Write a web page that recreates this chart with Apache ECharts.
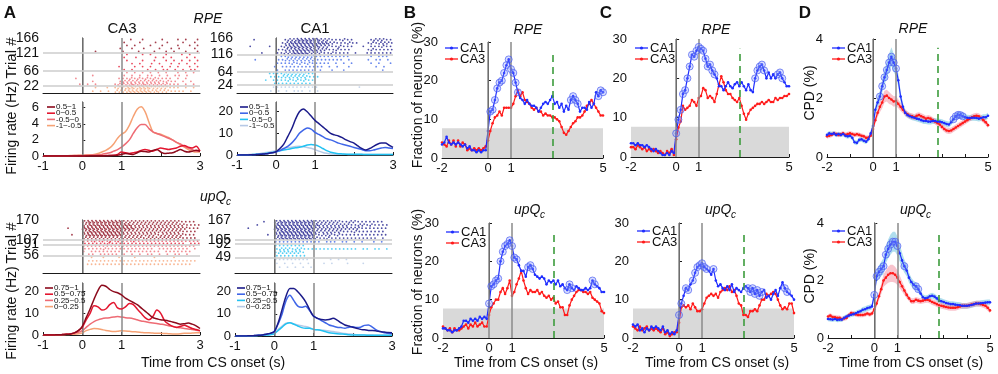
<!DOCTYPE html>
<html>
<head>
<meta charset="utf-8">
<script src="https://cdn.jsdelivr.net/npm/echarts@6/dist/echarts.min.js"></script>
<style>
html, body { margin: 0; padding: 0; background: #fff; }
#chart { width: 998px; height: 374px; }
</style>
</head>
<body>
<div id="chart"></div>
<script>
// ---------- data ----------
// panel A: firing rates, t = -1 .. 3 s, step 0.1
var ca3RpeLabels = ['0.5~1', '0~0.5', '-0.5~0', '-1~-0.5']
var ca3UpLabels = ['0.75~1', '0.5~0.75', '0.25~0.5', '0~0.25']

var ca3RpeHi = [0,0,0,0,0,0,0,0,0,0, 0,0,0.02,0.02,0.03,0.03,0.04,0.05,0.05,0.1, 0.2,0.3,0.25,0.2,0.4,0.6,0.55,0.5,0.7,0.8, 0.5,0.3,0.35,0.4,0.6,0.8,0.6,0.5,0.6,0.7,0.6]
var ca3RpeMidHi = [0,0,0,0,0,0,0,0,0,0, 0,0.02,0.02,0.03,0.03,0.04,0.05,0.06,0.08,0.2, 0.5,0.4,0.3,0.4,0.5,0.7,0.8,0.7,0.6,0.8, 1.0,0.9,0.8,0.9,1.0,1.2,1.3,1.1,1.0,1.2,0.6]
var ca3RpeMidLo = [0.02,0.02,0.02,0.02,0.03,0.03,0.03,0.04,0.05,0.05, 0.06,0.08,0.1,0.12,0.15,0.2,0.3,0.4,0.6,0.8, 1.1,1.5,2.0,2.8,3.5,3.9,3.9,3.4,3.0,2.8, 2.6,2.4,2.2,2.0,1.7,1.5,1.2,1.0,0.8,0.6,0.6]
var ca3RpeLo = [0.02,0.02,0.02,0.03,0.03,0.03,0.04,0.05,0.05,0.08, 0.1,0.12,0.15,0.2,0.3,0.5,0.7,1.0,1.5,2.2, 2.7,3.0,3.8,4.9,5.8,6.1,5.5,4.2,3.0,2.8, 2.7,2.5,2.3,2.0,1.7,1.4,1.1,0.8,0.6,0.5,0.5]

var ca1RpeHi = [0,0,0,0.05,0.1,0.2,0.3,0.5,0.7,1.0, 1.5,3.0,5.0,8.5,12.0,16.5,20.0,21.3,20.0,18.0, 16.0,14.5,13.0,11.5,10.0,9.3,8.8,8.0,7.0,6.2, 5.5,4.2,3.0,2.3,3.0,4.0,5.0,5.5,5.5,4.5,3.5]
var ca1RpeMidHi = [0,0,0,0.05,0.1,0.2,0.3,0.5,0.7,1.0, 1.5,2.0,3.0,4.0,5.5,7.5,10.0,11.5,12.5,12.0, 10.5,9.5,8.5,7.5,7.0,6.3,5.5,5.0,4.5,4.0, 3.5,3.0,2.5,2.0,2.0,2.3,2.8,3.2,3.5,3.2,3.0]
var ca1RpeMidLo = [0.05,0.05,0.1,0.1,0.2,0.3,0.4,0.6,0.9,1.2, 1.5,2.0,2.3,2.6,3.0,3.3,3.6,4.0,4.6,4.9, 4.6,4.0,3.0,2.0,1.3,0.9,0.6,0.5,0.4,0.35, 0.3,0.3,0.3,0.25,0.25,0.25,0.25,0.25,0.25,0.25,0.25]
var ca1RpeLo = [0.05,0.1,0.1,0.2,0.3,0.5,0.7,1.0,1.3,1.6, 2.0,2.5,3.0,3.3,3.6,3.9,4.0,3.8,3.5,3.1, 2.5,1.8,1.2,0.8,0.5,0.4,0.3,0.3,0.3,0.25, 0.25,0.25,0.25,0.2,0.2,0.2,0.2,0.2,0.2,0.2,0.2]

var ca3UpHi = [0,0,0,0.05,0.1,0.2,0.3,0.5,1.0,2.0, 4.0,8.0,12.0,16.5,20.5,23.0,22.5,21.0,20.0,19.5, 18.5,17.0,16.0,15.0,14.0,12.5,11.0,9.5,8.0,7.5, 7.0,6.8,6.5,6.0,5.5,5.0,5.2,5.5,5.0,4.2,3.0]
var ca3UpMidHi = [0,0,0,0.05,0.1,0.2,0.3,0.5,1.0,2.0, 3.5,7.0,10.0,13.5,13.0,11.5,12.0,14.0,15.0,12.5, 12.0,13.0,14.5,14.0,12.0,10.0,8.0,7.0,8.5,11.5, 10.0,6.5,5.0,4.0,3.5,4.0,4.5,3.8,3.0,2.5,2.0]
var ca3UpMidLo = [0,0,0,0.05,0.1,0.2,0.3,0.5,0.8,1.2, 2.0,3.5,5.0,6.2,7.0,7.5,7.8,8.0,8.3,8.5, 8.3,8.0,7.8,7.5,7.0,6.5,6.2,5.8,5.5,5.3, 5.0,4.7,4.3,4.0,3.6,3.3,3.0,2.8,2.5,2.2,2.0]
var ca3UpLo = [0,0,0,0.05,0.1,0.15,0.2,0.3,0.4,0.6, 1.0,2.0,2.6,3.0,2.9,2.5,2.1,1.8,1.6,1.7, 2.0,1.9,1.7,1.5,1.4,1.2,1.0,1.0,0.9,0.8, 0.8,0.7,0.6,0.5,0.5,0.6,0.8,0.8,0.9,1.0,1.0]

var ca1UpHi = [0,0,0,0.05,0.1,0.2,0.3,0.5,0.8,1.2, 2.0,6.0,12.0,18.0,21.5,21.5,20.0,18.0,15.5,12.0, 9.0,8.0,7.5,7.3,7.5,8.0,7.2,6.0,5.0,4.5, 4.0,3.5,3.0,2.8,2.5,2.5,2.3,2.0,1.8,1.6,1.5]
var ca1UpMidHi = [0,0,0,0.05,0.1,0.2,0.3,0.5,0.8,1.2, 2.0,5.5,10.0,16.0,18.5,16.0,13.5,13.0,13.5,11.5, 9.0,8.0,7.0,6.0,5.0,4.5,4.0,3.8,3.5,4.0, 4.2,3.8,4.0,4.8,5.0,4.0,2.8,2.0,1.5,1.2,1.0]
var ca1UpMidLo = [0,0,0,0.05,0.1,0.15,0.2,0.3,0.4,0.6, 1.0,2.5,4.0,5.5,6.0,5.3,4.5,3.8,3.5,3.5, 3.0,2.8,2.5,2.0,1.5,1.2,1.0,0.9,0.8,0.6, 0.5,0.5,0.4,0.4,0.3,0.3,0.3,0.3,0.3,0.3,0.3]
var ca1UpLo = [0,0,0,0.05,0.1,0.2,0.3,0.4,0.6,0.9, 1.5,3.0,4.5,5.8,6.0,5.5,5.0,4.6,4.3,3.8, 3.0,2.8,2.6,2.5,2.3,2.0,1.7,1.4,1.1,0.9, 0.8,0.6,0.5,0.5,0.4,0.4,0.3,0.3,0.3,0.3,0.3]

// panel A rasters: trial-group borders and spike density per 0.1 s bin (rows top to bottom, groups low to high)
var ca3RpeBounds = [0, 22, 66, 121, 166]
var ca3RpeTicks = [22, 66, 121, 166]
var ca3RpeRows = [
  ['0000000000000100101223323332222211101010',
   '0000000000001010102223333332322211110100'],
  ['0000000000000000000001010101010100101010',
   '0000000000001000000010101011010101101000',
   '0000000010000000000111212121211110101000',
   '0000000000001000000122222222221211010100',
   '0000000001010100001222322322222211101010'],
  ['0000000000000000000001000101000100010100',
   '0000000000000000000010010000101010001010',
   '0000000000000000000001000100100101010101',
   '0000000000000000000000101001010010101010',
   '0000000000000000000100010101001010100101',
   '0000000000000000000010100010101101010110'],
  ['0000000000000000000000100100001000101001',
   '0000000000000000000010001000100100010010',
   '0000000000000000000001010001001000100101',
   '0000000000000000000100100100010010100010',
   '0000000000000100000010001000100101001001']
]
var ca1RpeBounds = [0, 24, 64, 116, 166]
var ca1RpeTicks = [24, 64, 116, 166]
var ca1RpeRows = [
  ['0000000001111111111110000000000100000000',
   '0000000010101011101010000000000000000000'],
  ['0000000011112222221100000000000000000000',
   '0000000011122222221110000000000000000000',
   '0000000101111212121100000000000000000000',
   '0000000001111111111000000000000000000000'],
  ['0000000000011222222211111111100000101110',
   '0000100000112222222211111110100001011010',
   '0000000000111121212111110101010000101001',
   '0000000001011111111111010100100000010100',
   '0000000000101111111101001001000000000100'],
  ['0000100000001223333332221112110000122211',
   '0000000000012333333333322111211001212221',
   '0001000010012333333332221121110010111211',
   '0000000000112233333322211211100001211111',
   '0000001000112233332222112111101001111111']
]
var ca3UpBounds = [0, 56, 91, 107, 170]
var ca3UpTicks = [56, 91, 107, 170]
var ca3UpRows = [
  ['0000000000001001000100010000100001000000',
   '0000000000011111111111111111111111111110',
   '0000000000011111111111111111111111111100',
   '0000000000000000000000000000000000000000',
   '0000000000000000000000000000000000000000'],
  ['0000000000111111111111111111111111111110',
   '0000000000111112111111111111011111111010',
   '0000000000101111111101111111110111111100',
   '0000000000011011111010101011010101101000'],
  ['0000000000111212121211121111111111111111',
   '0000000000111111211111111111111111110111'],
  ['0000000000233333333322222222222222211110',
   '0000000000233333333333222222222222221111',
   '0000001000333333333333322222222222222111',
   '0000000000233333333322222222222222211110',
   '0000000100233333333322222222212222221110',
   '0000000000222222222222222122222222211110']
]
var ca1UpBounds = [0, 49, 92, 105, 167]
var ca1UpTicks = [49, 92, 105, 167]
var ca1UpRows = [
  ['0000000000111111111000001010100000000000',
   '0000000000101010101000101000100010000000',
   '0000000000010101010100000000000000000000',
   '0000000000000000000000000000000000000000'],
  ['0000000000111111110000000000000000000000',
   '0000000000122212211111111111111011011010',
   '0000000000122222210000000000000000000000',
   '0000000000111111110000000000000000000000'],
  ['0000000000111111111111011101101010010100'],
  ['0000000100233333333322222221122111111100',
   '0000010000333333333332222222211221211110',
   '0001000000333333333322222222222211111110',
   '0000000000233333333322222221112111111100',
   '0000000010233333333321222121111111111110',
   '0000000000233333333321121111111111110100']
]

// panels B-D: t = -2 .. 5 s, step 0.1
var bRpeCA1 = [3.5,4,5.5,4,3.5,4,3.5,4,3.5,3, 3.5,2.5,3,2,2,1.5,2,1.5,2,2, 7,12,12.5,15,18,19.5,20,22,24,25.5, 23,22,19.5,17,15.5,15,14,15,14,13.5, 13.5,13,12,13,14,14.5,14,15,16,14, 14.5,13,14,12,13.5,12.5,15,16,15,14, 12,13,13,12.5,14.5,13,14,17,16,17.5, 17]
var bRpeCA3 = [4,3.5,3,4.5,3.5,4.5,3,4.5,3,4, 3.5,2,2.5,2,2.5,2,2.5,2,2.5,3, 4.5,7,9,10.5,11,12,11,13,13,13, 13,14,16,17.5,16,17,15,14.5,14,13, 12.5,13,12,12,11,11.5,11,11,10.5,10.5, 10,9.5,8,6.5,6,7,8,9,9.5,10.5, 10.5,11,12,13.5,14,15,14,13,12,11, 11]
var bUpCA1 = [2.5,2.5,2,2,1.5,2,2,2.5,3,4.5, 4.5,4,5,4.5,5,4.5,5.5,5,5.5,5, 9,13.5,14,15,15.5,20,22.5,24,24.5,25.5, 24,21,20.5,19,17.5,17.5,16,18.5,19,18, 16.5,16,15.5,16,15.5,14,15,14.5,15,14, 15,13.5,14,13,12.5,14,13,12.5,13.5,13, 12.5,12.5,13,12.5,13,15,14,13.5,13,12, 12]
var bUpCA3 = [3,2.5,2,2.5,1.5,2.5,2,2,2.5,3, 3.5,2.5,3.5,3,4,3,3.5,4,3,3, 6,8,9,10,10,12,13,11.5,13,15, 11,12,14,15.5,17.5,15,13,11.5,12.5,12, 12,12.5,11.5,12,11,10.5,11,10,10.5,9, 9.5,8,8,6,6,8.5,10,11,12,12.5, 12.5,12,12,11.5,12,10.5,10,9.5,9,7, 6.5]
var cRpeCA1 = [3.5,3.5,3,3.5,3,3,2.5,3,2.5,2, 1.5,2,1.5,1,0.5,0.5,1,0.5,1.5,1, 6,9.5,12,16,17,20,23,26,25.5,27, 28,27.5,27,25,23,23.5,22,21,20,18, 18,17,18,19,18,17.5,18.5,19,18,19, 18,17,18.5,17,16.5,20,22,23,23.5,22, 20,21.5,20,21,20,21,21.5,20,19,18, 18]
var cRpeCA3 = [2.5,2.5,2,3,2.5,2,2.5,1.5,2,1.5, 2,1.5,1,1.5,1,0.5,1.5,1,2,0.5, 4.5,7.5,9,13,12,12.5,13,14.5,14,13, 15,15.5,17.5,17,15,15.5,15,14,16,18.5, 20.5,19,17,16,16,15,14.5,14,15,13, 11,9.5,11,12,12.5,13,13.5,13.5,14,13.5, 14,14.5,14,14,15,14.5,15,15,15.5,15.5, 16]
var cUpCA1 = [3.5,3,3.5,2,2.5,1.5,2.5,2,3,2.5, 3,2.5,2,3,1.5,2,1,1.5,1,2, 6,9,11,13,12.5,14,15,17,18.5,19, 19.5,18.5,18,17.5,16.5,18,15,13.5,14,13, 12.5,13.5,12.5,14,12,13,12.5,12,13,13.5, 13,12,13,11.5,12.5,11,12,12.5,10.5,11, 10,11.5,12.5,11,13,14.5,13,12,11.5,11, 10]
var cUpCA3 = [3,2.5,2,3,2,2.5,3,2,2.5,2, 2.5,2,1.5,2.5,1,1.5,0.5,1,1.5,1.5, 4,8,8.5,8,8.5,7.5,9,8,7,7, 7.5,9,10.5,11,11.5,11,11.5,10.5,12,12.5, 13,12.5,13.5,12,12.5,11,9,8.5,6,6, 5.5,7,7,7.5,7,8.5,10,10,11.5,11, 11.5,12,11.5,10,8.5,7.5,8,7.5,9,9, 6.5]
var dRpeCA1 = [0.75,0.8,0.78,0.8,0.75,0.78,0.75,0.78,0.72,0.7, 0.72,0.65,0.5,0.48,0.58,0.6,0.55,0.52,0.6,0.8, 1.05,1.6,1.85,2.05,2.4,2.7,2.95,3.2,3.4,3.2, 3.0,2.6,2.05,1.7,1.5,1.42,1.38,1.35,1.33,1.3, 1.28,1.25,1.22,1.22,1.2,1.2,1.22,1.22,1.2,1.2, 1.18,1.15,1.12,1.1,1.18,1.28,1.38,1.43,1.42,1.38, 1.35,1.33,1.32,1.33,1.33,1.32,1.3,1.32,1.35,1.35, 1.4]
var dRpeCA3 = [0.7,0.72,0.75,0.8,0.78,0.75,0.77,0.8,0.75,0.78, 0.8,0.78,0.75,0.77,0.75,0.72,0.7,0.65,0.66,0.72, 0.95,1.25,1.5,1.7,1.85,2.05,2.08,2.0,1.95,1.88, 1.9,1.8,1.7,1.6,1.5,1.45,1.4,1.38,1.35,1.4, 1.42,1.38,1.35,1.3,1.32,1.3,1.25,1.2,1.15,1.1, 1.02,0.95,0.9,0.88,0.9,0.95,1.0,1.05,1.1,1.15, 1.2,1.25,1.3,1.35,1.38,1.4,1.38,1.32,1.25,1.18, 1.08]
var dUpCA1 = [0.66,0.65,0.64,0.66,0.63,0.64,0.64,0.7,0.75,0.78, 0.81,0.83,0.86,0.9,0.93,0.98,1.0,1.04,1.06,1.1, 1.5,2.15,2.3,2.4,2.5,2.9,3.1,3.25,3.35,3.35, 3.2,2.95,2.7,2.5,2.35,2.1,1.95,1.85,1.8,1.7, 1.55,1.42,1.38,1.4,1.45,1.47,1.44,1.38,1.3,1.28, 1.25,1.22,1.2,1.18,1.18,1.16,1.15,1.14,1.12,1.12, 1.12,1.13,1.15,1.17,1.2,1.2,1.21,1.22,1.23,1.24, 1.24]
var dUpCA3 = [0.75,0.78,0.73,0.72,0.7,0.7,0.66,0.68,0.7,0.8, 0.87,0.85,0.82,0.8,0.8,0.8,0.82,0.85,0.82,0.85, 1.0,1.2,1.45,1.7,2.0,2.1,2.2,2.25,2.25,2.2, 2.1,1.95,1.8,1.65,1.5,1.38,1.28,1.28,1.33,1.3, 1.28,1.3,1.32,1.33,1.3,1.25,1.22,1.18,1.14,1.12, 1.1,1.08,1.06,1.05,1.05,1.05,1.07,1.1,1.12,1.12, 1.12,1.14,1.16,1.18,1.2,1.2,1.18,1.15,1.12,1.05, 0.96]
// s.e.m. for panel D
var dRpeCA1Sem = [0.08,0.08,0.08,0.08,0.08,0.08,0.08,0.08,0.08,0.08, 0.08,0.08,0.08,0.08,0.08,0.08,0.08,0.08,0.08,0.1, 0.12,0.15,0.18,0.2,0.22,0.25,0.28,0.3,0.32,0.3, 0.28,0.22,0.18,0.15,0.12,0.1,0.1,0.1,0.1,0.1, 0.1,0.1,0.1,0.1,0.1,0.1,0.1,0.1,0.1,0.1, 0.1,0.1,0.1,0.1,0.1,0.1,0.1,0.1,0.1,0.1, 0.1,0.1,0.1,0.1,0.1,0.1,0.1,0.1,0.1,0.1, 0.1]
var dRpeCA3Sem = [0.08,0.08,0.08,0.08,0.08,0.08,0.08,0.08,0.08,0.08, 0.08,0.08,0.08,0.08,0.08,0.08,0.08,0.08,0.08,0.08, 0.1,0.12,0.15,0.18,0.2,0.2,0.2,0.2,0.18,0.18, 0.17,0.15,0.14,0.12,0.1,0.1,0.1,0.1,0.1,0.1, 0.1,0.1,0.1,0.1,0.1,0.1,0.1,0.1,0.1,0.1, 0.1,0.1,0.1,0.1,0.1,0.1,0.1,0.1,0.1,0.1, 0.1,0.1,0.1,0.1,0.1,0.1,0.1,0.1,0.1,0.1, 0.1]
var dUpCA1Sem = [0.08,0.08,0.08,0.08,0.08,0.08,0.08,0.08,0.08,0.08, 0.08,0.08,0.08,0.08,0.08,0.1,0.1,0.1,0.1,0.1, 0.15,0.2,0.22,0.25,0.28,0.3,0.33,0.35,0.35,0.35, 0.33,0.3,0.27,0.23,0.2,0.18,0.15,0.14,0.13,0.12, 0.1,0.1,0.1,0.1,0.1,0.1,0.1,0.1,0.1,0.1, 0.1,0.1,0.1,0.1,0.1,0.1,0.1,0.1,0.1,0.1, 0.1,0.1,0.1,0.1,0.1,0.1,0.1,0.1,0.1,0.1, 0.1]
var dUpCA3Sem = [0.08,0.08,0.08,0.08,0.08,0.08,0.08,0.08,0.08,0.08, 0.08,0.08,0.08,0.08,0.08,0.08,0.08,0.08,0.08,0.08, 0.1,0.12,0.15,0.18,0.22,0.25,0.28,0.3,0.3,0.28, 0.26,0.22,0.18,0.15,0.12,0.1,0.1,0.1,0.1,0.1, 0.1,0.1,0.1,0.1,0.1,0.1,0.1,0.1,0.1,0.1, 0.1,0.1,0.1,0.1,0.1,0.1,0.1,0.1,0.1,0.1, 0.1,0.1,0.1,0.1,0.1,0.1,0.1,0.1,0.1,0.1, 0.1]
// time ranges where CA1 differs significantly (open circles)
var sigBRpe = [[0.1, 1.3], [3.6, 3.9], [4.8, 5.0]]
var sigBUp = [[0.0, 1.2], [1.7, 1.9], [3.4, 3.6], [4.5, 4.6]]
var sigCRpe = [[0.0, 1.7], [3.5, 3.9], [4.5, 4.7]]
var sigCUp = [[0.0, 0.1], [0.3, 0.4], [0.6, 1.2], [1.5, 1.5], [3.0, 3.6], [4.6, 4.7]]
var sigDRpe = [[0.3, 1.0], [3.5, 3.9]]
var sigDUp = [[0.0, 0.5], [0.6, 1.0], [1.3, 1.3], [1.8, 1.9]]
var chanceLevel = 7.7
var outcomeTime = 2.8
var bcdTicks = [-2, 0, 1, 5]
var aTicks = [-1, 0, 1, 3]

// ---------- helpers ----------
var FONT = 'Liberation Sans, Arial, Helvetica, sans-serif'
var ca3Colors = ['#f6a275', '#ee6b74', '#e3162f', '#8c0a1c']   // low -> high
var ca1Colors = ['#b6c9e6', '#22c2f2', '#3f66e8', '#1b1b8a']
var tA = [], tB = []
for (var i = -10; i <= 30; i++) tA.push(i / 10)
for (var j = -20; j <= 50; j++) tB.push(j / 10)
function pairs(t, v) { return t.map(function (x, k) { return [x, v[k]] }) }

var grids = [], xAxes = [], yAxes = [], extraY = [], series = [], graphics = []

function addGrid(l, t, w, h) {
	grids.push({ left: l, top: t, width: w, height: h })
	return grids.length - 1
}
function timeAxis(gi, min, max, labels, show) {
	xAxes.push({
		type: 'value', gridIndex: gi, min: min, max: max, interval: 1,
		axisLine: { show: true, onZero: false, lineStyle: { color: '#1a1a1a', width: 1 } },
		axisTick: { show: show, inside: true, length: 3, lineStyle: { color: '#1a1a1a' } },
		axisLabel: {
			show: show, margin: 4, fontSize: 13, fontFamily: FONT, color: '#111',
			formatter: function (v) { return labels.indexOf(v) >= 0 ? String(v) : '' }
		},
		splitLine: { show: false }
	})
}
function valueAxis(gi, min, max, interval, showMax, fs) {
	yAxes.push({
		type: 'value', gridIndex: gi, min: min, max: max, interval: interval,
		axisLine: { show: true, lineStyle: { color: '#1a1a1a', width: 1 } },
		axisTick: { show: true, inside: true, length: 3, lineStyle: { color: '#1a1a1a' } },
		axisLabel: { margin: 4, fontSize: fs || 13, fontFamily: FONT, color: '#111', showMaxLabel: showMax },
		splitLine: { show: false }
	})
}
// trial labels sit close together, so they are split over two overlaid axes
function trialAxis(gi, max, ticks) {
	function ax(vals, line) {
		return {
			type: 'value', gridIndex: gi, min: 0, max: max, position: 'left',
			axisLine: { show: line, lineStyle: { color: '#1a1a1a', width: 1 } },
			axisTick: { show: false },
			axisLabel: {
				customValues: vals, margin: 4, fontSize: 14, fontFamily: FONT, color: '#111',
				showMinLabel: true, showMaxLabel: true, hideOverlap: false
			},
			splitLine: { show: false }
		}
	}
	yAxes.push(ax([ticks[0], ticks[2]], true))
	extraY.push(ax([ticks[1], ticks[3]], false))
}

var SUB = [[[0, 0]], [[-0.024, -0.25], [0.022, 0.25]], [[-0.03, -0.3], [0.01, 0.3], [0.034, -0.08]]]
function rasterDots(rows, lo, hi) {
	var out = [], h = (hi - lo) / rows.length
	rows.forEach(function (s, k) {
		var yc = hi - (k + 0.5) * h
		var shift = (k % 2) ? 0.018 : -0.012
		for (var b = 0; b < s.length; b++) {
			var c = +s[b]
			if (!c) continue
			var xc = -1 + b * 0.1 + 0.05 + shift
			SUB[c - 1].forEach(function (o) { out.push([xc + o[0], yc + o[1] * h]) })
		}
	})
	return out
}
function vLines() {
	return [{ xAxis: 0 }, { xAxis: 1 }]
}
function rasterPanel(gi, rowsByGroup, bounds, colors) {
	rowsByGroup.forEach(function (rows, g) {
		var s = {
			type: 'scatter', xAxisIndex: gi, yAxisIndex: gi, silent: true,
			symbol: 'circle', symbolSize: 1.8, z: 3,
			itemStyle: { color: colors[g], opacity: 0.78 },
			data: rasterDots(rows, bounds[g], bounds[g + 1])
		}
		if (g === 0) {
			var lines = vLines().map(function (d) { return Object.assign(d, { lineStyle: { color: '#8a8a8a', width: 1.5, type: 'solid' } }) })
			bounds.slice(1, -1).forEach(function (b) {
				lines.push({ yAxis: b, lineStyle: { color: '#cdcdcd', width: 1.6, type: 'solid' } })
			})
			s.markLine = { silent: true, symbol: 'none', label: { show: false }, animation: false, data: lines }
		}
		series.push(s)
	})
}
function ratePanel(gi, arrs, colors) {
	// arrs ordered low -> high group
	arrs.forEach(function (a, k) {
		var s = {
			type: 'line', xAxisIndex: gi, yAxisIndex: gi, silent: true,
			data: pairs(tA, a), showSymbol: false, smooth: 0.3, z: 3 + k,
			lineStyle: { color: colors[k], width: 1.5 }, itemStyle: { color: colors[k] }
		}
		if (k === 0) {
			s.markLine = {
				silent: true, symbol: 'none', label: { show: false }, animation: false,
				lineStyle: { color: '#8a8a8a', width: 1.5, type: 'solid' }, data: vLines()
			}
		}
		series.push(s)
	})
}
function sigPoints(vals, ranges) {
	var out = []
	tB.forEach(function (t, k) {
		ranges.forEach(function (r) { if (t >= r[0] - 1e-6 && t <= r[1] + 1e-6) out.push([t, vals[k]]) })
	})
	return out
}
function tracePanel(gi, ca1, ca3, sig, top, greenTop, chance) {
	if (chance) {
		series.push({
			type: 'line', xAxisIndex: gi, yAxisIndex: gi, silent: true, z: 1,
			data: [[-2, chance], [5, chance]], showSymbol: false,
			lineStyle: { width: 0, opacity: 0 }, areaStyle: { color: '#d9d9d9', opacity: 1 }
		})
	}
	series.push({
		type: 'line', xAxisIndex: gi, yAxisIndex: gi, silent: true, z: 3,
		data: pairs(tB, ca3), symbol: 'circle', symbolSize: 2.6, showSymbol: true,
		lineStyle: { color: '#ff1a1a', width: 1.2 }, itemStyle: { color: '#ff1a1a' },
		markLine: {
			silent: true, symbol: 'none', label: { show: false }, animation: false,
			data: [
				{ xAxis: 0, lineStyle: { color: '#8a8a8a', width: 1.5, type: 'solid' } },
				{ xAxis: 1, lineStyle: { color: '#8a8a8a', width: 1.5, type: 'solid' } },
				[{ coord: [outcomeTime, 0], lineStyle: { color: '#3c9c3c', width: 1.6, type: [7, 5] } }, { coord: [outcomeTime, greenTop] }]
			]
		}
	})
	series.push({
		type: 'line', xAxisIndex: gi, yAxisIndex: gi, silent: true, z: 4,
		data: pairs(tB, ca1), symbol: 'circle', symbolSize: 2.6, showSymbol: true,
		lineStyle: { color: '#1f2dff', width: 1.2 }, itemStyle: { color: '#1f2dff' }
	})
	series.push({
		type: 'scatter', xAxisIndex: gi, yAxisIndex: gi, silent: true, z: 5,
		data: sigPoints(ca1, sig), symbol: 'circle', symbolSize: 7,
		itemStyle: { color: 'rgba(120,140,255,0.35)', borderColor: 'rgba(70,90,240,0.85)', borderWidth: 1 }
	})
}
function bandSeries(gi, mean, sem, color) {
	var pts = tB.map(function (t, k) { return [t, mean[k] - sem[k], mean[k] + sem[k]] })
	series.push({
		type: 'custom', xAxisIndex: gi, yAxisIndex: gi, silent: true, z: 1,
		data: pts, encode: { x: 0, y: [1, 2] },
		renderItem: function (params, api) {
			if (params.dataIndex !== 0) return
			var up = pts.map(function (d) { return api.coord([d[0], d[2]]) })
			var lo = pts.map(function (d) { return api.coord([d[0], d[1]]) }).reverse()
			return { type: 'polygon', shape: { points: up.concat(lo) }, style: { fill: color } }
		}
	})
}

// ---------- text helpers ----------
function txt(x, y, s, o) {
	o = o || {}
	graphics.push({
		type: 'text', x: x, y: y, rotation: o.rot || 0, silent: true, z: 50,
		style: {
			text: s, fill: '#111', fontFamily: FONT, fontSize: o.fs || 14,
			fontWeight: o.fw || 'normal', fontStyle: o.it ? 'italic' : 'normal',
			align: o.align || 'center', verticalAlign: 'middle',
			textAlign: o.align || 'center', textVerticalAlign: 'middle'
		}
	})
}
function upQc(x, y) {
	txt(x, y, 'upQ', { it: true, align: 'left', fs: 14 })
	txt(x + 26, y + 5, 'c', { it: true, align: 'left', fs: 10 })
}
function legendA(x, y, labels, colors) {
	// labels high -> low
	labels.forEach(function (lab, k) {
		var c = colors[colors.length - 1 - k], yy = y + k * 6.2
		graphics.push({ type: 'line', silent: true, z: 50, shape: { x1: x, y1: yy, x2: x + 8, y2: yy }, style: { stroke: c, lineWidth: 1.6 } })
		txt(x + 9, yy, lab, { fs: 8, align: 'left' })
	})
}
function legendBCD(x, y) {
	[['CA1', '#1f2dff'], ['CA3', '#ff1a1a']].forEach(function (it, k) {
		var yy = y + k * 11
		graphics.push({ type: 'line', silent: true, z: 50, shape: { x1: x, y1: yy, x2: x + 13, y2: yy }, style: { stroke: it[1], lineWidth: 1.3 } })
		graphics.push({ type: 'circle', silent: true, z: 50, shape: { cx: x + 6.5, cy: yy, r: 1.6 }, style: { fill: it[1] } })
		txt(x + 15, yy, it[0], { fs: 13, align: 'left' })
	})
}

// ---------- panel A ----------
var g
g = addGrid(43, 38, 157, 55); timeAxis(g, -1, 3, aTicks, false); trialAxis(g, 166, ca3RpeTicks)
rasterPanel(g, ca3RpeRows, ca3RpeBounds, ca3Colors)
g = addGrid(43, 102, 157, 54); timeAxis(g, -1, 3, aTicks, true); valueAxis(g, 0, 6.7, 2, false)
ratePanel(g, [ca3RpeLo, ca3RpeMidLo, ca3RpeMidHi, ca3RpeHi], ca3Colors)
g = addGrid(237, 38, 156, 55); timeAxis(g, -1, 3, aTicks, false); trialAxis(g, 166, ca1RpeTicks)
rasterPanel(g, ca1RpeRows, ca1RpeBounds, ca1Colors)
g = addGrid(237, 102, 156, 53); timeAxis(g, -1, 3, aTicks, true); valueAxis(g, 0, 24.5, 10, false)
ratePanel(g, [ca1RpeLo, ca1RpeMidLo, ca1RpeMidHi, ca1RpeHi], ca1Colors)
g = addGrid(43, 220, 157, 53); timeAxis(g, -1, 3, aTicks, false); trialAxis(g, 170, ca3UpTicks)
rasterPanel(g, ca3UpRows, ca3UpBounds, ca3Colors)
g = addGrid(43, 283, 157, 52); timeAxis(g, -1, 3, aTicks, true); valueAxis(g, 0, 24, 10, false)
ratePanel(g, [ca3UpLo, ca3UpMidLo, ca3UpMidHi, ca3UpHi], ca3Colors)
g = addGrid(235, 220, 157, 53); timeAxis(g, -1, 3, aTicks, false); trialAxis(g, 167, ca1UpTicks)
rasterPanel(g, ca1UpRows, ca1UpBounds, ca1Colors)
g = addGrid(235, 283, 157, 53); timeAxis(g, -1, 3, aTicks, true); valueAxis(g, 0, 24, 10, false)
ratePanel(g, [ca1UpLo, ca1UpMidLo, ca1UpMidHi, ca1UpHi], ca1Colors)

// ---------- panels B, C, D ----------
g = addGrid(442, 42, 161, 116); timeAxis(g, -2, 5, bcdTicks, true); valueAxis(g, 0, 30, 10, true)
tracePanel(g, bRpeCA1, bRpeCA3, sigBRpe, 30, 27.5, chanceLevel)
g = addGrid(443, 223, 161, 115); timeAxis(g, -2, 5, bcdTicks, true); valueAxis(g, 0, 30, 10, true)
tracePanel(g, bUpCA1, bUpCA3, sigBUp, 30, 27.5, chanceLevel)
g = addGrid(631, 39, 158, 118); timeAxis(g, -2, 5, bcdTicks, true); valueAxis(g, 0, 30, 10, true)
tracePanel(g, cRpeCA1, cRpeCA3, sigCRpe, 30, 27.5, chanceLevel)
g = addGrid(633, 223, 161, 115); timeAxis(g, -2, 5, bcdTicks, true); valueAxis(g, 0, 30, 10, true)
tracePanel(g, cUpCA1, cUpCA3, sigCUp, 30, 27.5, chanceLevel)
g = addGrid(827, 39, 161, 118); timeAxis(g, -2, 5, bcdTicks, true); valueAxis(g, 0, 4, 2, true)
bandSeries(g, dRpeCA1, dRpeCA1Sem, 'rgba(110,195,222,0.55)')
bandSeries(g, dRpeCA3, dRpeCA3Sem, 'rgba(242,125,145,0.45)')
tracePanel(g, dRpeCA1, dRpeCA3, sigDRpe, 4, 3.7, 0)
g = addGrid(828, 223, 162, 115); timeAxis(g, -2, 5, bcdTicks, true); valueAxis(g, 0, 4, 2, true)
bandSeries(g, dUpCA1, dUpCA1Sem, 'rgba(110,195,222,0.55)')
bandSeries(g, dUpCA3, dUpCA3Sem, 'rgba(242,125,145,0.45)')
tracePanel(g, dUpCA1, dUpCA3, sigDUp, 4, 3.7, 0)

// ---------- labels ----------
txt(10, 13, 'A', { fw: 'bold', fs: 17 })
txt(410, 13, 'B', { fw: 'bold', fs: 17 })
txt(606, 13, 'C', { fw: 'bold', fs: 17 })
txt(805, 13, 'D', { fw: 'bold', fs: 17 })
txt(122, 29, 'CA3', { fs: 15 })
txt(315, 29, 'CA1', { fs: 15 })
txt(208, 19, 'RPE', { it: true })
upQc(200, 197)
txt(528, 30, 'RPE', { it: true })
txt(716, 30, 'RPE', { it: true })
txt(913, 29, 'RPE', { it: true })
upQc(514, 210)
upQc(705, 210)
upQc(900, 210)
txt(12, 58, 'Trial #', { rot: Math.PI / 2, fs: 15 })
txt(12, 243, 'Trial #', { rot: Math.PI / 2, fs: 15 })
txt(12, 128, 'Firing rate (Hz)', { rot: Math.PI / 2, fs: 14 })
txt(12, 313, 'Firing rate (Hz)', { rot: Math.PI / 2, fs: 14 })
txt(418, 95, 'Fraction of neurons (%)', { rot: Math.PI / 2, fs: 14 })
txt(418, 282, 'Fraction of neurons (%)', { rot: Math.PI / 2, fs: 14 })
txt(810, 93, 'CPD (%)', { rot: Math.PI / 2, fs: 14 })
txt(810, 276, 'CPD (%)', { rot: Math.PI / 2, fs: 14 })
txt(213, 363, 'Time from CS onset (s)', { fs: 14 })
txt(526, 363, 'Time from CS onset (s)', { fs: 14 })
txt(717, 363, 'Time from CS onset (s)', { fs: 14 })
txt(911, 363, 'Time from CS onset (s)', { fs: 14 })
legendA(47, 107, ca3RpeLabels, ca3Colors)
legendA(240, 107, ca3RpeLabels, ca1Colors)
legendA(45, 288, ca3UpLabels, ca3Colors)
legendA(237, 288, ca3UpLabels, ca1Colors)
legendBCD(445, 48)
legendBCD(446, 232)
legendBCD(635, 48)
legendBCD(637, 231)
legendBCD(832, 48)
legendBCD(832, 231)

var myChart = echarts.init(document.getElementById('chart'))
myChart.setOption({
	animation: false,
	backgroundColor: '#ffffff',
	grid: grids,
	xAxis: xAxes,
	yAxis: yAxes.concat(extraY),
	series: series,
	graphic: { elements: graphics }
})
</script>
</body>
</html>
